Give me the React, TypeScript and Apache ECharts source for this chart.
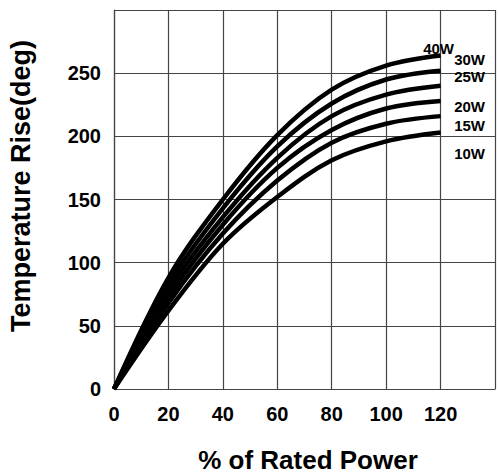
import React, { useEffect, useRef } from "react";
import * as echarts from "echarts";

const xValues = [0, 20, 40, 60, 80, 100, 120];
const seriesNames = ["40W", "30W", "25W", "20W", "15W", "10W"];
const s40 = [0, 88, 150, 201, 237, 256, 264];
const s30 = [0, 83, 143, 192, 226, 245, 252];
const s25 = [0, 78, 136, 183, 216, 233, 240];
const s20 = [0, 73, 130, 175, 205, 222, 228];
const s15 = [0, 68, 123, 165, 195, 210, 216];
const s10 = [0, 62, 115, 152, 181, 196, 203];
const seriesValues = [s40, s30, s25, s20, s15, s10];
const labelOffsets: [number, number][] = [
  [-2, -7],
  [29, -11],
  [29, -9],
  [29, 6],
  [29, 9],
  [29, 21],
];

const FONT = "'Liberation Sans', Arial, Helvetica, sans-serif";
const GRID_COLOR = "#444";

export default function App() {
  const ref = useRef<HTMLDivElement>(null);
  useEffect(() => {
    if (!ref.current) return;
    const chart = echarts.init(ref.current, null, { renderer: "svg" });
    const series = seriesValues.map((vals, i) => {
      const data = vals.map((v, j) => [xValues[j], v]);
      const last = data[data.length - 1];
      return {
        type: "line",
        name: seriesNames[i],
        data,
        smooth: 0.35,
        symbol: "none",
        lineStyle: { color: "#000", width: 4.5 },
        markPoint: {
          symbol: "circle",
          symbolSize: 0,
          data: [{ coord: last, value: seriesNames[i] }],
          label: {
            show: true,
            position: "inside",
            offset: labelOffsets[i],
            formatter: seriesNames[i],
            color: "#000",
            fontFamily: FONT,
            fontWeight: "bold",
            fontSize: 15,
          },
        },
      };
    });
    chart.setOption({
      animation: false,
      grid: { left: 114, top: 10, bottom: 85, right: -4, containLabel: false },
      xAxis: {
        type: "value",
        min: 0,
        max: 140,
        interval: 20,
        axisLine: { show: true, lineStyle: { color: GRID_COLOR, width: 1.2 } },
        axisTick: { show: false },
        splitLine: { show: true, lineStyle: { color: GRID_COLOR, width: 1.2 } },
        axisLabel: {
          margin: 15,
          color: "#000",
          fontFamily: FONT,
          fontWeight: "bold",
          fontSize: 20,
          formatter: (v: number) => (v > 120 ? "" : String(v)),
        },
      },
      yAxis: {
        type: "value",
        min: 0,
        max: 300,
        interval: 50,
        axisLine: { show: true, lineStyle: { color: GRID_COLOR, width: 1.2 } },
        axisTick: { show: false },
        splitLine: { show: true, lineStyle: { color: GRID_COLOR, width: 1.2 } },
        axisLabel: {
          margin: 13,
          color: "#000",
          fontFamily: FONT,
          fontWeight: "bold",
          fontSize: 20,
          formatter: (v: number) => (v >= 300 ? "" : String(v)),
        },
      },
      graphic: [
        {
          type: "text",
          x: 21,
          y: 186,
          rotation: Math.PI / 2,
          style: {
            text: "Temperature Rise(deg)",
            fill: "#000",
            font: `bold 27px ${FONT}`,
            align: "center",
            verticalAlign: "middle",
          },
        },
        {
          type: "text",
          x: 308,
          y: 460,
          style: {
            text: "% of Rated Power",
            fill: "#000",
            font: `bold 26px ${FONT}`,
            align: "center",
            verticalAlign: "middle",
          },
        },
      ],
      series,
    });
    return () => chart.dispose();
  }, []);
  return (
    <div
      ref={ref}
      style={{ position: "absolute", left: 0, top: 0, width: 498, height: 474, background: "#fff" }}
    />
  );
}
